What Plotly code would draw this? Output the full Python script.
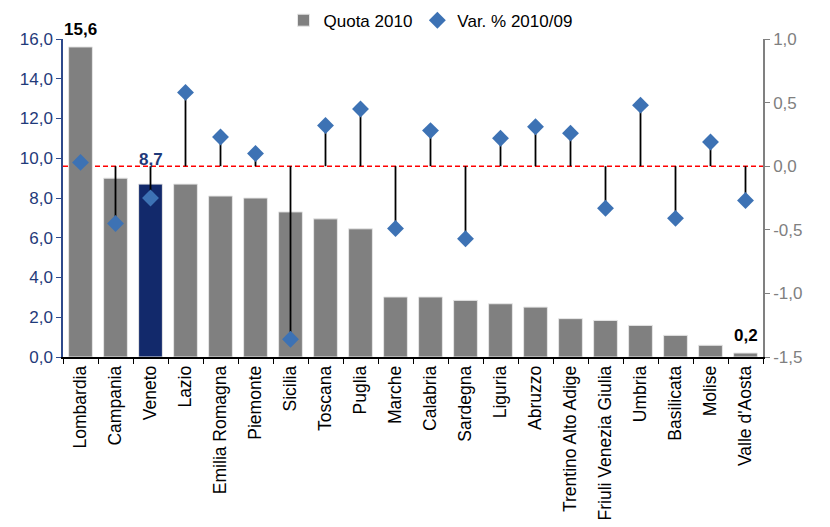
import plotly.graph_objects as go

regions = ["Lombardia", "Campania", "Veneto", "Lazio", "Emilia Romagna", "Piemonte",
           "Sicilia", "Toscana", "Puglia", "Marche", "Calabria", "Sardegna", "Liguria",
           "Abruzzo", "Trentino Alto Adige", "Friuli Venezia Giulia", "Umbria",
           "Basilicata", "Molise", "Valle d'Aosta"]
quota_2010 = [15.6, 9.0, 8.7, 8.7, 8.1, 8.0, 7.3, 6.95, 6.45, 3.02, 3.02, 2.85, 2.68,
              2.51, 1.93, 1.84, 1.59, 1.09, 0.59, 0.2]
var_2010_09 = [0.03, -0.45, -0.25, 0.58, 0.23, 0.10, -1.36, 0.32, 0.45, -0.49, 0.28,
               -0.57, 0.22, 0.31, 0.26, -0.33, 0.48, -0.41, 0.19, -0.27]
left_ticks = [0, 2, 4, 6, 8, 10, 12, 14, 16]
right_ticks = [-1.5, -1.0, -0.5, 0.0, 0.5, 1.0]
labelled = ["Lombardia", "Veneto", "Valle d'Aosta"]
highlight = "Veneto"


def it_fmt(v):
    return f"{v:.1f}".replace(".", ",")


FONT = "Liberation Sans, Arial, sans-serif"
NAVY = "#1F3A7A"

bar_colors = ["#12296B" if r == highlight else "#808080" for r in regions]

fig = go.Figure()
fig.add_trace(go.Bar(
    x=regions, y=quota_2010, name="Quota 2010",
    marker=dict(color=bar_colors, line=dict(color="#E6E6E6", width=1)),
    width=0.68,
))
fig.add_trace(go.Scatter(
    x=regions, y=var_2010_09, name="Var. % 2010/09", yaxis="y2",
    mode="markers",
    marker=dict(symbol="diamond", size=13, color="#3D72B4"),
    error_y=dict(type="data", symmetric=False,
                 array=[max(0, -v) for v in var_2010_09],
                 arrayminus=[max(0, v) for v in var_2010_09],
                 width=0, thickness=1.8, color="#000000"),
    cliponaxis=False,
))

fig.add_shape(type="line", xref="paper", yref="y2", x0=0, x1=1, y0=0, y1=0,
              line=dict(color="#FF0000", width=1.5, dash="5px,3px"), layer="below")

for r in labelled:
    i = regions.index(r)
    fig.add_annotation(
        x=r, y=quota_2010[i], xref="x", yref="y", text=f"<b>{it_fmt(quota_2010[i])}</b>",
        showarrow=False, yanchor="bottom", yshift=13 if r == highlight else 6,
        font=dict(family=FONT, size=17, color=NAVY if r == highlight else "#000000"),
    )

fig.update_layout(
    width=830, height=527,
    margin=dict(l=63, r=67, t=39, b=170, autoexpand=False),
    paper_bgcolor="white", plot_bgcolor="white",
    separators=",.",
    font=dict(family=FONT, size=17, color="#000000"),
    showlegend=True,
    legend=dict(orientation="h", x=0.315, xanchor="left", y=0.995, yanchor="top",
                yref="container", font=dict(size=17),
                bgcolor="rgba(0,0,0,0)", tracegroupgap=0),
    xaxis=dict(
        type="category", range=[-0.5, len(regions) - 0.5],
        tickangle=-90, tickson="boundaries",
        ticks="outside", ticklen=5, tickcolor="#000000",
        showline=True, linecolor="#000000", linewidth=1.5,
        tickfont=dict(size=17.5, color="#000000"), showgrid=False,
    ),
    yaxis=dict(
        range=[0, 16], tickvals=left_ticks, ticktext=[it_fmt(v) for v in left_ticks],
        ticks="outside", ticklen=5, tickcolor="#2E4A8C",
        showline=True, linecolor="#2E4A8C", linewidth=1.5,
        tickfont=dict(size=17, color=NAVY), showgrid=False, zeroline=False,
    ),
    yaxis2=dict(
        range=[-1.5, 1.0], tickvals=right_ticks, ticktext=[it_fmt(v) for v in right_ticks],
        overlaying="y", side="right",
        ticks="outside", ticklen=5, tickcolor="#808080",
        showline=True, linecolor="#808080", linewidth=1.5,
        tickfont=dict(size=17, color="#808080"), showgrid=False, zeroline=False,
    ),
)

fig.write_html("out.html")
